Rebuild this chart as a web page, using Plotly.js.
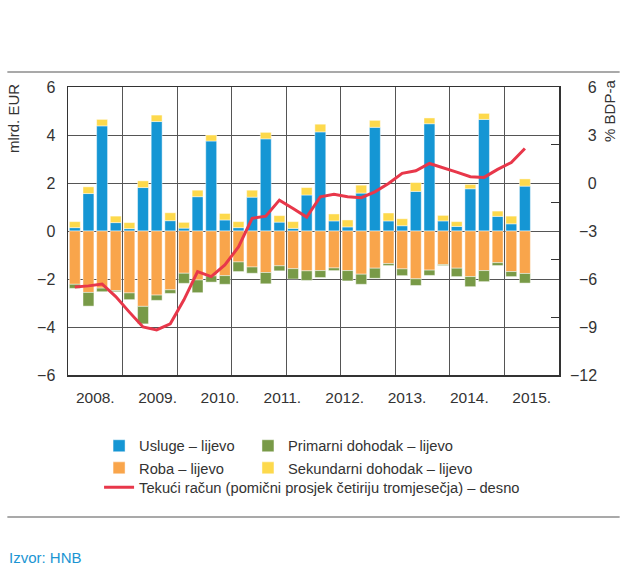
<!DOCTYPE html>
<html>
<head>
<meta charset="utf-8">
<script src="https://cdn.plot.ly/plotly-3.0.1.min.js"></script>
<style>
html,body{margin:0;padding:0;background:#fff;}
#chart{width:627px;height:570px;}
</style>
</head>
<body>
<div id="chart"></div>
<script>
// Quarterly data, 34 quarters (index 0..33)
var years = ['2008.', '2009.', '2010.', '2011.', '2012.', '2013.', '2014.', '2015.'];

var usluge = [0.14, 1.56, 4.38, 0.35, 0.10, 1.81, 4.56, 0.43, 0.12, 1.43, 3.75, 0.46, 0.14, 1.41, 3.84, 0.37,
              0.11, 1.50, 4.13, 0.42, 0.17, 1.58, 4.32, 0.42, 0.22, 1.65, 4.47, 0.42, 0.19, 1.76, 4.65, 0.61,
              0.30, 1.87];
var roba = [-2.22, -2.56, -2.38, -2.48, -2.58, -3.14, -2.67, -2.45, -1.76, -2.04, -1.87, -1.86, -1.29, -1.50, -1.73, -1.45,
            -1.57, -1.66, -1.65, -1.54, -1.65, -1.80, -1.55, -1.36, -1.58, -1.99, -1.63, -1.40, -1.55, -1.90, -1.65, -1.32,
            -1.69, -1.77];
var primarni = [-0.17, -0.57, -0.15, -0.05, -0.28, -0.73, -0.22, -0.15, -0.42, -0.53, -0.26, -0.36, -0.40, -0.26, -0.47, -0.21,
                -0.43, -0.40, -0.29, -0.11, -0.43, -0.42, -0.42, -0.08, -0.28, -0.28, -0.22, -0.04, -0.35, -0.42, -0.46, -0.12,
                -0.21, -0.40];
var sekundarni = [0.25, 0.28, 0.27, 0.27, 0.25, 0.28, 0.27, 0.33, 0.24, 0.27, 0.25, 0.27, 0.25, 0.29, 0.27, 0.27,
                  0.28, 0.31, 0.32, 0.29, 0.29, 0.33, 0.29, 0.33, 0.29, 0.37, 0.24, 0.23, 0.20, 0.18, 0.25, 0.22,
                  0.32, 0.30];
var tekuci = [-6.50, -6.43, -6.31, -7.10, -8.07, -9.00, -9.18, -8.80, -7.30, -5.54, -5.85, -5.12, -4.00, -2.21, -2.07, -1.07,
              -1.59, -2.13, -0.86, -0.71, -0.86, -0.92, -0.55, -0.03, 0.60, 0.76, 1.22, 0.97, 0.68, 0.39, 0.35, 0.85,
              1.28, 2.16];

var rightTickVals = [-12, -9, -6, -3, 0, 3, 6];
var rightTickText = ['\u221212', '\u2007\u22129', '\u2007\u22126', '\u2007\u22123', '\u2007\u20070', '\u2007\u20073', '\u2007\u20076'];

var idx = usluge.map(function (_, i) { return i; });
var nSlots = 36;
// year label positions spread evenly over the first and last year column
var labelPos = years.map(function (_, k) { return 1.5 + k * (nSlots - 4) / (years.length - 1); });

var FONT = '"Liberation Sans", Arial, sans-serif';
var TXT = '#333333';
var barLine = {color: 'rgba(255,255,255,0.45)', width: 1};

var traces = [
  {type: 'bar', name: 'Usluge – lijevo', x: idx, y: usluge, legend: 'legend', legendrank: 1,
   marker: {color: '#1596d4', line: barLine}},
  {type: 'bar', name: 'Roba – lijevo', x: idx, y: roba, legend: 'legend', legendrank: 2,
   marker: {color: '#f9a54b', line: barLine}},
  {type: 'bar', name: 'Primarni dohodak – lijevo', x: idx, y: primarni, legend: 'legend2', legendrank: 1,
   marker: {color: '#789a47', line: barLine}},
  {type: 'bar', name: 'Sekundarni dohodak – lijevo', x: idx, y: sekundarni, legend: 'legend2', legendrank: 2,
   marker: {color: '#fdd94c', line: barLine}},
  {type: 'scatter', mode: 'lines', name: 'Tekući račun (pomični prosjek četiriju tromjesečja) – desno',
   x: idx, y: tekuci, yaxis: 'y2', legend: 'legend3',
   line: {color: '#e8374a', width: 3}}
];

function leg(x, y) {
  return {orientation: 'v', xref: 'container', yref: 'container', x: x, y: y,
          xanchor: 'left', yanchor: 'middle',
          bgcolor: 'rgba(0,0,0,0)', borderwidth: 0, traceorder: 'normal', tracegroupgap: 0,
          font: {family: FONT, size: 14.7, color: TXT}};
}

var layout = {
  width: 627, height: 570,
  margin: {l: 68, r: 68, t: 87, b: 195, pad: 0, autoexpand: false},
  paper_bgcolor: '#ffffff', plot_bgcolor: '#ffffff',
  font: {family: FONT, size: 16, color: TXT},
  barmode: 'relative', bargap: 0.2,
  showlegend: true,
  legend: leg(0.158, 0.1979),
  legend2: leg(0.3955, 0.1979),
  legend3: leg(0.158, 0.1444),
  xaxis: {
    range: [-0.5, nSlots - 0.5], tickmode: 'array', tickvals: labelPos, ticktext: years,
    ticks: '', showgrid: false, zeroline: false,
    showline: true, linecolor: '#333', linewidth: 1.5, mirror: true,
    tickfont: {family: FONT, size: 15.5, color: TXT}, ticklabelstandoff: 8,
    minor: {tickmode: 'linear', tick0: -0.5, dtick: 4, showgrid: true, gridcolor: '#555', gridwidth: 1, ticks: ''},
    fixedrange: true, automargin: false
  },
  yaxis: {
    range: [-6, 6], tickmode: 'linear', tick0: -6, dtick: 2, ticks: '',
    showgrid: true, gridcolor: '#555', gridwidth: 1, zeroline: false,
    showline: true, linecolor: '#333', linewidth: 1.5, mirror: true,
    tickfont: {family: FONT, size: 16, color: TXT}, ticklabelstandoff: 8,
    fixedrange: true, automargin: false
  },
  yaxis2: {
    overlaying: 'y', side: 'right', anchor: 'x', range: [-12, 6],
    tickmode: 'array', tickvals: rightTickVals, ticktext: rightTickText, ticks: '',
    showgrid: false, zeroline: false, showline: false,
    tickfont: {family: FONT, size: 16, color: TXT}, ticklabelstandoff: 10,
    fixedrange: true, automargin: false
  },
  yaxis3: {
    overlaying: 'y', side: 'right', anchor: 'x', range: [0, 5], tickmode: 'linear', tick0: 0, dtick: 1,
    ticks: 'inside', ticklen: 8, tickwidth: 1, tickcolor: '#333',
    showticklabels: false, showgrid: false, zeroline: false, showline: false, fixedrange: true, automargin: false
  },
  shapes: [
    {type: 'line', xref: 'paper', yref: 'paper', x0: -0.1235, x1: 1.1235, y0: 1.052, y1: 1.052,
     line: {color: '#8c8c8c', width: 1.5}},
    {type: 'line', xref: 'paper', yref: 'paper', x0: -0.1235, x1: 1.1235, y0: -0.4934, y1: -0.4934,
     line: {color: '#8c8c8c', width: 1.5}}
  ],
  annotations: [
    {text: 'mlrd. EUR', xref: 'paper', yref: 'paper', x: -0.111, y: 1.017, xanchor: 'center', yanchor: 'top',
     textangle: -90, showarrow: false, font: {family: FONT, size: 15, color: TXT}},
    {text: '% BDP-a', xref: 'paper', yref: 'paper', x: 1.103, y: 1.03, xanchor: 'center', yanchor: 'top',
     textangle: -90, showarrow: false, font: {family: FONT, size: 15, color: TXT}},
    {text: 'Izvor: HNB', xref: 'paper', yref: 'paper', x: -0.1235, y: -0.633, xanchor: 'left', yanchor: 'middle',
     showarrow: false, font: {family: FONT, size: 15, color: '#1b95d3'}}
  ]
};

// invisible helper trace so that yaxis3 (tick marks only) is drawn
traces.push({type: 'scatter', x: [0], y: [0], yaxis: 'y3', mode: 'markers',
             marker: {opacity: 0}, showlegend: false, hoverinfo: 'skip'});

Plotly.newPlot('chart', traces, layout, {staticPlot: true, displayModeBar: false});
</script>
</body>
</html>
